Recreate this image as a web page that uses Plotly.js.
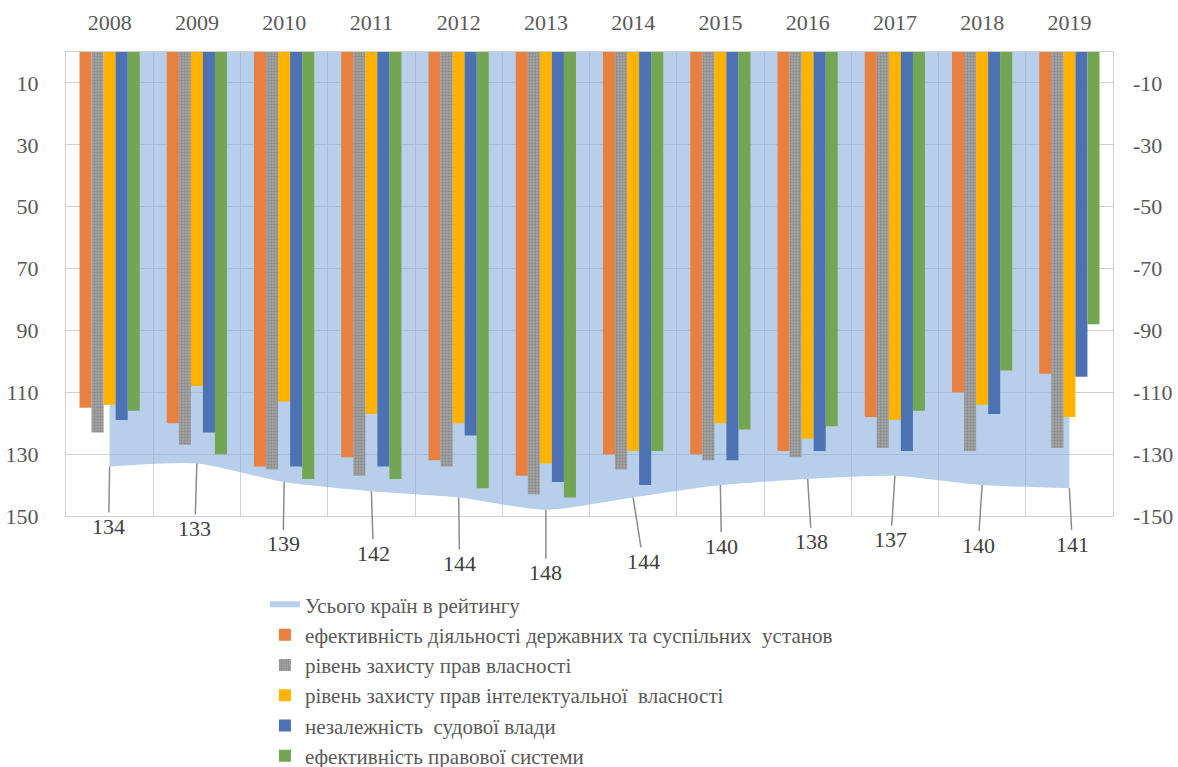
<!DOCTYPE html>
<html>
<head>
<meta charset="utf-8">
<script src="https://cdn.plot.ly/plotly-3.0.1.min.js"></script>
<style>html,body{margin:0;padding:0;background:#fff;overflow:hidden;}#chart{width:1178px;height:800px;}</style>
</head>
<body>
<div id="chart"></div>
<script>
// ---- data ----
const years = ['2008','2009','2010','2011','2012','2013','2014','2015','2016','2017','2018','2019'];
const totalCountries = [134,133,139,142,144,148,144,140,138,137,140,141];
const institutions = [115,120,134,131,132,137,130,130,129,118,110,104];
const propertyRights = [123,127,135,137,134,143,135,132,131,128,129,128];
const ipRights = [114,108,113,117,120,133,129,120,125,119,114,118];
const judicialIndependence = [119,123,134,134,124,139,140,132,129,129,117,105];
const legalSystem = [116,130,138,138,141,144,129,122,121,116,103,88];
const seriesNames = [
  'Усього країн в рейтингу',
  'ефективність діяльності державних та суспільних  установ',
  'рівень захисту прав власності',
  'рівень захисту прав інтелектуальної  власності',
  'незалежність  судової влади',
  'ефективність правової системи'
];
const tickVals = [10,30,50,70,90,110,130,150];
const leftTickText = ['10','30','50','70','90','110','130','150'];
const rightTickText = ['-10','-30','-50','-70','-90','-110','-130','-150'];

// ---- label placement (layout only) ----
const labelDX = [-1,-2,-1,2,1,0,10,1,4,-4,-4,3];
const labelDY = [60,65,62,62,66,63,64,61,63,64,60,56];

const FONT = 'Liberation Serif, Times New Roman, serif';
const colors = ['rgba(138,178,222,0.62)','#E8803F','#9C9C9C','#FFB300','#4C72B4','#74A553'];

const traces = [];
// area on the base subplot (drawn beneath)
traces.push({
  type:'scatter', x: years, y: totalCountries, name: seriesNames[0], yaxis:'y',
  mode:'none', fill:'tozeroy', fillcolor: colors[0],
  line:{shape:'spline', smoothing:0.6, width:0}, hoverinfo:'x+y'
});
// bars on the overlaying subplot (drawn on top of the area)
const barData = [institutions, propertyRights, ipRights, judicialIndependence, legalSystem];
barData.forEach((vals,i)=>{
  const t = {type:'bar', x: years, y: vals, name: seriesNames[i+1], yaxis:'y2',
    marker:{color: colors[i+1], line:{width:0}}};
  if(i===1){ t.marker.pattern = {shape:'.', fgcolor:'#878787', bgcolor:'#A2A2A2', size:3, solidity:0.35}; }
  traces.push(t);
});

// annotation x uses the category index of each year
const annotations = years.map((yr,i)=>({
  x: i, y: totalCountries[i], xref:'x', yref:'y',
  text: String(totalCountries[i]), showarrow:true, arrowhead:0, arrowwidth:1.5,
  arrowcolor:'#8C8C8C', ax: labelDX[i], ay: labelDY[i], standoff:0,
  font:{family:FONT, size:22, color:'#404040'}
}));

const layout = {
  width:1178, height:800,
  margin:{l:66, r:65, t:52, b:284, autoexpand:false},
  paper_bgcolor:'#fff', plot_bgcolor:'#fff',
  barmode:'group', bargap:0.31, bargroupgap:0,
  font:{family:FONT, color:'#595959'},
  showlegend:true,
  legend:{x:0.19, xanchor:'left', y:-0.147, yanchor:'top', orientation:'v',
    font:{family:FONT, size:21, color:'#595959'}, itemwidth:30, tracegroupgap:0},
  xaxis:{type:'category', side:'top', tickson:'boundaries', ticks:'', showgrid:true,
    gridcolor:'#D0D0D0', gridwidth:1, showline:true, linecolor:'#D0D0D0', mirror:true,
    tickfont:{family:FONT, size:22, color:'#595959'}, ticklabelstandoff:12},
  yaxis:{range:[150,0], tickvals:tickVals, ticktext:leftTickText, showgrid:true,
    gridcolor:'#D0D0D0', gridwidth:1, zeroline:false, showline:true, linecolor:'#D0D0D0',
    mirror:true, ticks:'', tickfont:{family:FONT, size:22, color:'#595959'}, ticklabelstandoff:22},
  yaxis2:{range:[150,0], overlaying:'y', side:'right', tickvals:tickVals, ticktext:rightTickText,
    showgrid:false, zeroline:false, showline:false, ticks:'',
    tickfont:{family:FONT, size:22, color:'#595959'}, ticklabelstandoff:19},
  annotations: annotations
};

Plotly.newPlot('chart', traces, layout, {displayModeBar:false, staticPlot:true});
</script>
</body>
</html>
